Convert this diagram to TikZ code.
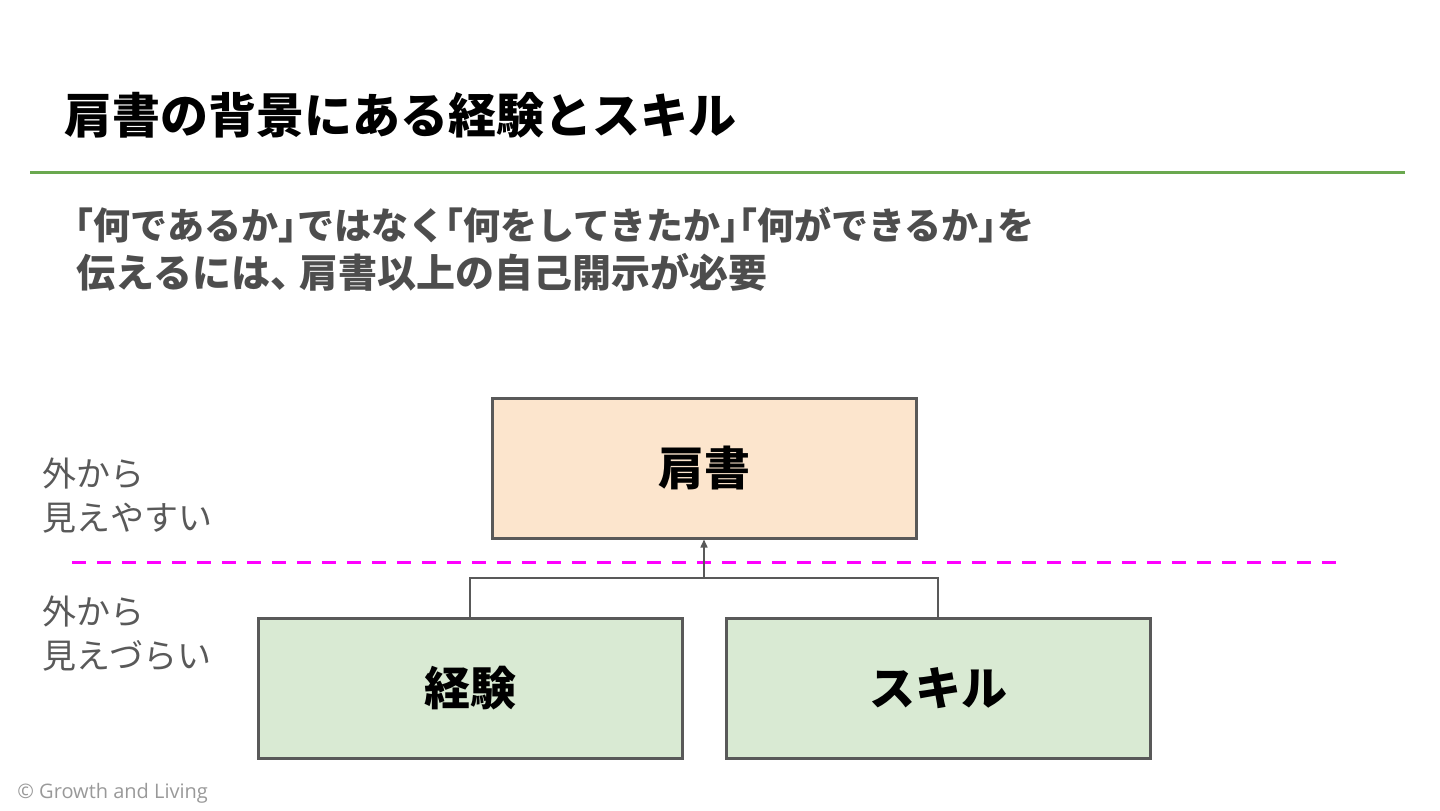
\documentclass[tikz,border=0pt]{standalone}
\usepackage{fontspec}
\setmainfont{Noto Sans CJK JP}
\newfontfamily\footfont{Open Sans}
\usetikzlibrary{arrows.meta}

\definecolor{linegreen}{HTML}{6AA84F}
\definecolor{textgray}{HTML}{4D4D4D}
\definecolor{edgegray}{HTML}{595959}
\definecolor{boxorange}{HTML}{FCE5CD}
\definecolor{boxgreen}{HTML}{D9EAD3}
\definecolor{footgray}{HTML}{999999}
\definecolor{borderpink}{HTML}{FF00FF}

% かぎ括弧と読点を半角幅に詰める
\newcommand{\kakko}[1]{\kern-0.5em「#1」\kern-0.5em}
\newcommand{\touten}{、\kern-0.25em}

\begin{document}
\begin{tikzpicture}[x=0.5pt,y=-0.5pt,
    layerbox/.style={draw=edgegray,line width=1.5pt,minimum width=212pt,minimum height=70pt,
      font=\fontsize{23}{26}\selectfont\bfseries},
    leadtext/.style={anchor=west,inner sep=0pt,text=textgray,
      font=\fontsize{18.5}{22}\selectfont\bfseries},
    sidelabel/.style={anchor=north west,inner sep=0pt,align=left,text=edgegray,
      font=\fontsize{17}{22}\selectfont},
    link/.style={draw=edgegray,line width=0.75pt}]
        % 画面の大きさ
        \useasboundingbox (0,0) rectangle (1440,810);

        % タイトルと下線
        \node[anchor=west,inner sep=0pt,font=\fontsize{24}{28}\selectfont\bfseries] (title) at (64,115) {肩書の背景にある経験とスキル};
        \draw[linegreen,line width=1.5pt] (30,172) -- (1405,172);

        % 説明文
        \node[leadtext] (lead1) at (75,225) {\kakko{何であるか}ではなく\kakko{何をしてきたか}\kakko{何ができるか}を};
        \node[leadtext,font=\fontsize{19.5}{22}\selectfont\bfseries] (lead2) at (76,272) {伝えるには\touten 肩書以上の自己開示が必要};

        % 三つの箱
        \node[layerbox,fill=boxorange] (katagaki) at (704,468) {肩書};
        \node[layerbox,fill=boxgreen] (keiken) at (470,688) {経験};
        \node[layerbox,fill=boxgreen] (skill) at (938,688) {スキル};

        % 境界線
        \draw[borderpink,line width=1.5pt,dash pattern=on 7pt off 5.5pt] (72,562) -- (1345,562);

        % 左の説明
        \node[sidelabel] (visible) at (42,457) {外から\\見えやすい};
        \node[sidelabel] (hidden) at (42,595) {外から\\見えづらい};

        % 矢印
        \coordinate (join) at (704,578);
        \draw[link] (keiken.north) |- (join) -| (skill.north);
        \draw[link,-{Triangle[length=4pt,width=3.5pt]}] (join) -- (katagaki.south);

        % フッター
        \node[anchor=west,inner sep=0pt,text=footgray,font=\footfont\fontsize{10}{12}\selectfont] (credit) at (17,793) {© Growth and Living};
\end{tikzpicture}
\end{document}
